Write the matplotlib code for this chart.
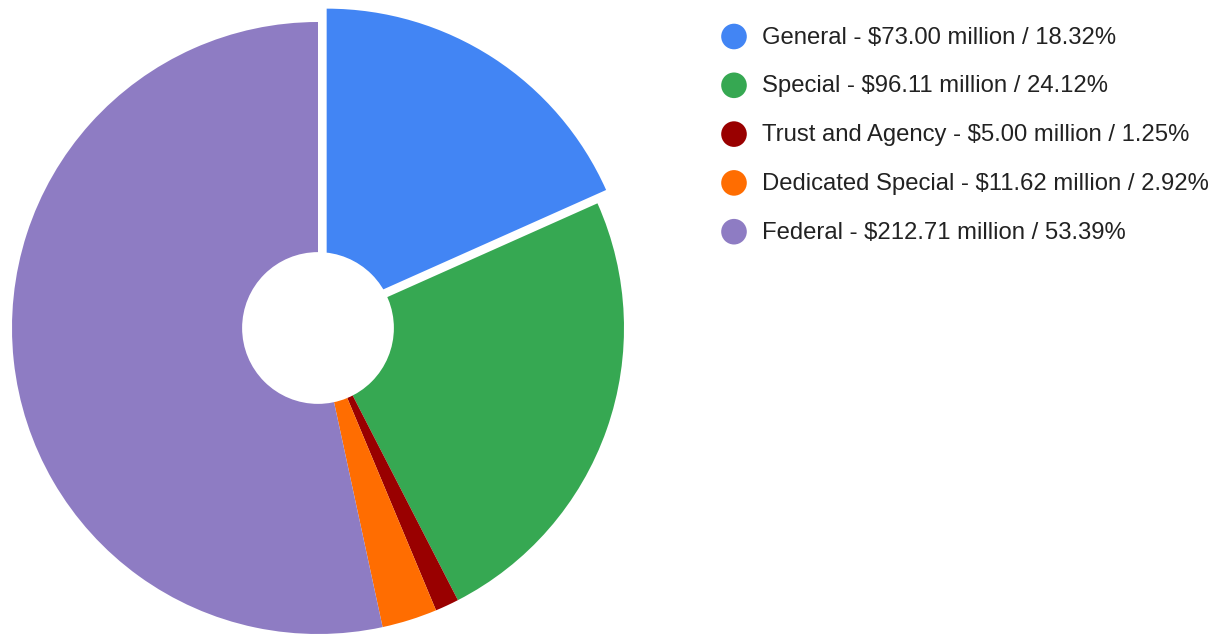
import matplotlib
matplotlib.use("Agg")
import matplotlib.pyplot as plt
from matplotlib.patches import Circle

# fund categories, amounts ($ million) and shares (%)
funds = ["General", "Special", "Trust and Agency", "Dedicated Special", "Federal"]
amounts = [73.00, 96.11, 5.00, 11.62, 212.71]
shares = [18.32, 24.12, 1.25, 2.92, 53.39]
colors = ["#4285f4", "#36a852", "#990000", "#ff6d01", "#8e7cc3"]
explode = [0.052, 0, 0, 0, 0]

fig = plt.figure(figsize=(12.24, 6.35), dpi=100)
fig.patch.set_facecolor("white")

# pie axes: square, 635 px, radius 1 -> ~306 px
ax = fig.add_axes([0, 0, 635 / 1224, 1])
ax.pie(amounts, colors=colors, explode=explode, startangle=90,
       counterclock=False, radius=1.0, wedgeprops=dict(linewidth=0))
ax.add_patch(Circle((0, 0), 0.248, facecolor="white", edgecolor="none", zorder=5))
ax.set_aspect("equal")
ax.set_xlim(-318 / 306, 317 / 306)
ax.set_ylim(-307 / 306, 328 / 306)
ax.axis("off")

# legend drawn by hand
lax = fig.add_axes([0, 0, 1, 1])
lax.set_xlim(0, 1224)
lax.set_ylim(635, 0)
lax.axis("off")
y0, dy = 36.5, 48.8
for i, (name, amt, pct, col) in enumerate(zip(funds, amounts, shares, colors)):
    y = y0 + i * dy
    lax.scatter([734], [y], s=340, color=col, edgecolors="none")
    lax.text(762, y + 1, f"{name} - ${amt:.2f} million / {pct:.2f}%",
             fontsize=17.2, family="Liberation Sans", color="#222222",
             va="center", ha="left")

fig.savefig("out.png", dpi=100)
